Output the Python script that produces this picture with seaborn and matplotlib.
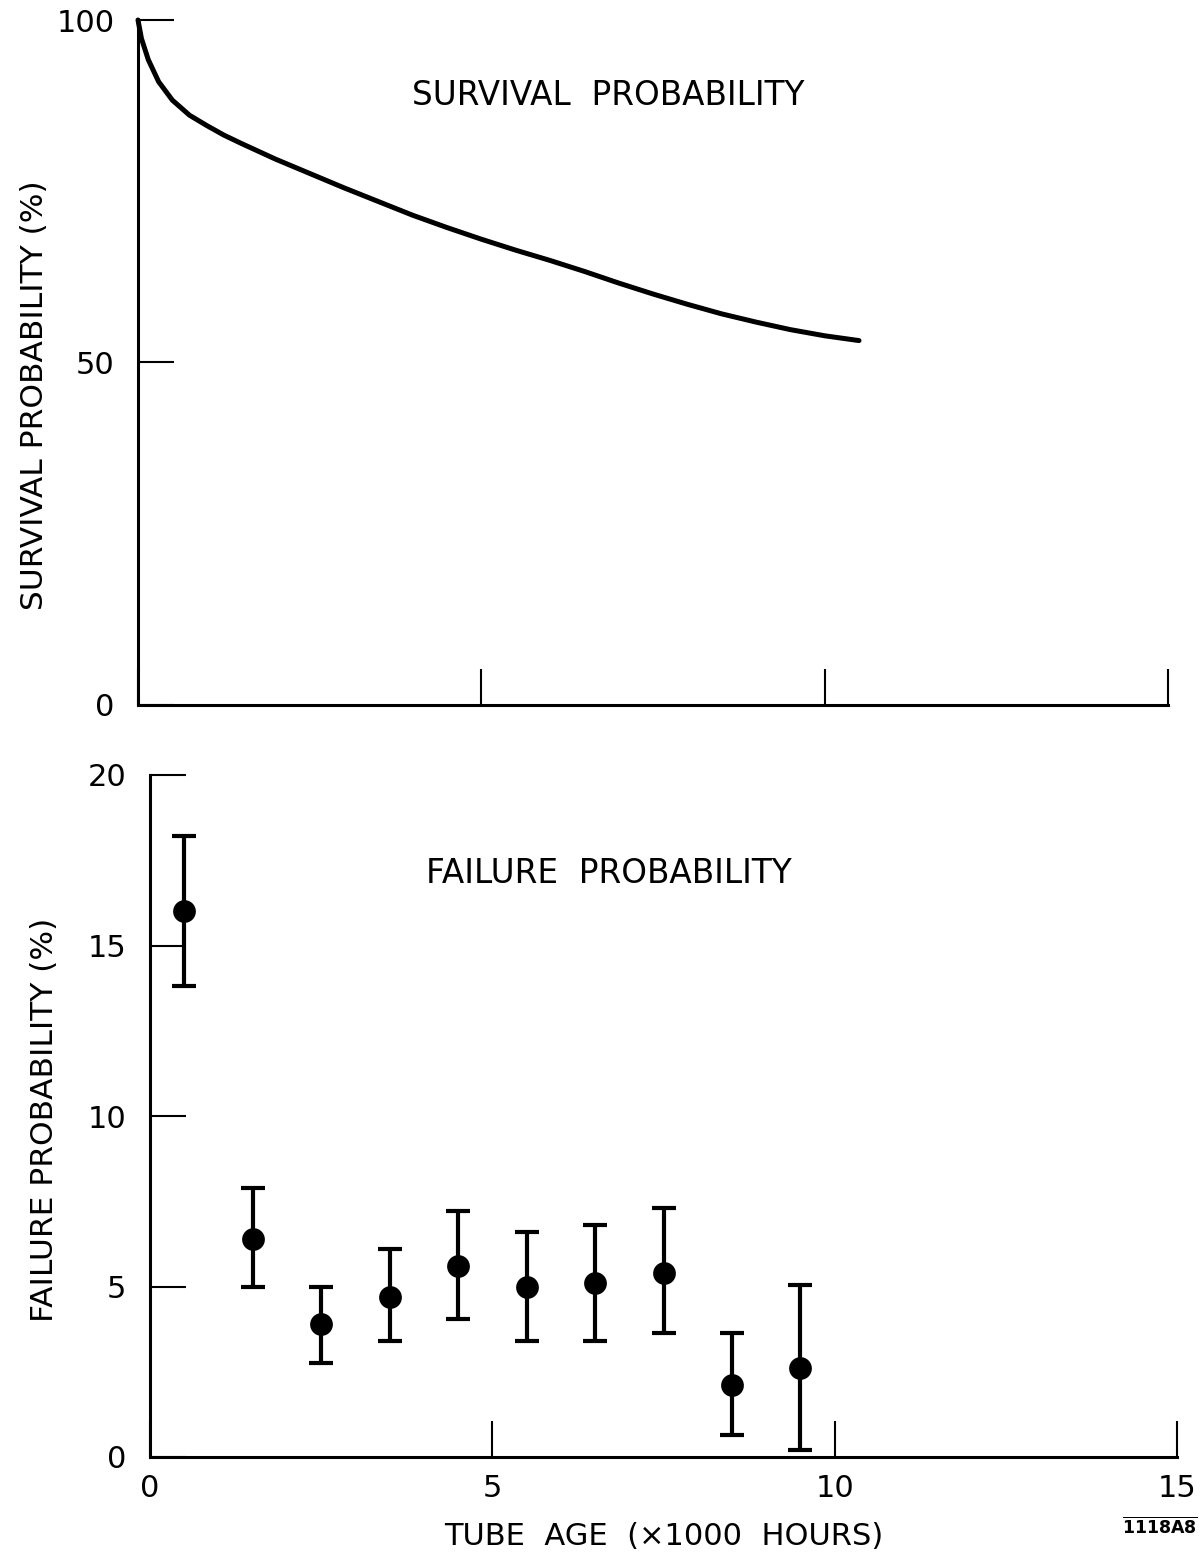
import matplotlib
matplotlib.use("Agg")
import matplotlib.pyplot as plt
import seaborn as sns
import pandas as pd
import numpy as np

# ---- data ----
surv_age = [0.0, 0.05, 0.15, 0.3, 0.5, 0.75, 1.0, 1.25, 1.5, 2.0, 2.5, 3.0, 3.5, 4.0,
            4.5, 5.0, 5.5, 6.0, 6.5, 7.0, 7.5, 8.0, 8.5, 9.0, 9.5, 10.0, 10.5]
surv_pct = [100.0, 97.3, 94.2, 91.0, 88.3, 86.1, 84.6, 83.2, 82.0, 79.7, 77.6, 75.5, 73.5,
            71.5, 69.7, 68.0, 66.4, 64.9, 63.3, 61.6, 60.0, 58.5, 57.1, 55.9, 54.8, 53.9, 53.2]

fail_age = [0.5, 1.5, 2.5, 3.5, 4.5, 5.5, 6.5, 7.5, 8.5, 9.5]
fail_pct = [16.0, 6.4, 3.9, 4.7, 5.6, 5.0, 5.1, 5.4, 2.1, 2.6]
fail_hi = [18.2, 7.9, 5.0, 6.1, 7.2, 6.6, 6.8, 7.3, 3.65, 5.05]
fail_lo = [13.8, 5.0, 2.75, 3.4, 4.05, 3.4, 3.4, 3.65, 0.65, 0.2]

top_yticks = [0, 50, 100]
bot_yticks = [0, 5, 10, 15, 20]
xticks = [0, 5, 10, 15]

sns.set_style("ticks")
plt.rcParams['font.family'] = ['DejaVu Sans']
plt.rcParams['text.color'] = 'black'
plt.rcParams['axes.labelcolor'] = 'black'

W, H = 1201, 1552
fig = plt.figure(figsize=(W / 100, H / 100), dpi=100)

ax1 = fig.add_axes([138 / W, 1 - 705 / H, 1030 / W, 685 / H])
ax2 = fig.add_axes([150 / W, 1 - 1457 / H, 1027 / W, 682 / H])

FS = 22
for ax in (ax1, ax2):
    ax.set_facecolor("white")
    for s in ("top", "right"):
        ax.spines[s].set_visible(False)
    for s in ("left", "bottom"):
        ax.spines[s].set_linewidth(2.2)
        ax.spines[s].set_color("black")
    ax.set_xlim(0, 15)
    ax.tick_params(axis="both", direction="in", length=26, width=1.5,
                   color="black", labelsize=FS, labelcolor="black")
    ax.tick_params(axis="y", pad=17)
    ax.tick_params(axis="x", pad=12)

# ---- top panel ----
df_s = pd.DataFrame({"age": surv_age, "pct": surv_pct})
sns.lineplot(data=df_s, x="age", y="pct", ax=ax1, color="black", linewidth=3.6,
             clip_on=False, solid_capstyle="round", solid_joinstyle="round")
ax1.set_ylim(0, 100)
ax1.set_yticks(top_yticks)
ax1.set_xticks(xticks)
ax1.set_xticklabels([])
ax1.set_xlabel("")
ax1.set_ylabel("SURVIVAL PROBABILITY (%)", fontsize=22.5)
ax1.yaxis.set_label_coords(-0.086, 0.453)
ax1.text(6.85, 89, "SURVIVAL  PROBABILITY", fontsize=23.5, ha="center", va="center")

# ---- bottom panel ----
df_f = pd.DataFrame({"age": fail_age, "pct": fail_pct, "hi": fail_hi, "lo": fail_lo})
yerr = [df_f["pct"] - df_f["lo"], df_f["hi"] - df_f["pct"]]
ax2.errorbar(df_f["age"], df_f["pct"], yerr=yerr, fmt="none", ecolor="black",
             elinewidth=3.0, capsize=8.5, capthick=3.0)
sns.scatterplot(data=df_f, x="age", y="pct", ax=ax2, color="black", s=230,
                edgecolor="black", zorder=5)
ax2.set_ylim(0, 20)
ax2.set_yticks(bot_yticks)
ax2.set_xticks(xticks)
ax2.set_xlabel("TUBE  AGE  (×1000  HOURS)", fontsize=FS, labelpad=14)
ax2.set_ylabel("FAILURE PROBABILITY (%)", fontsize=22.5)
ax2.yaxis.set_label_coords(-0.089, 0.495)
ax2.text(6.7, 17.1, "FAILURE  PROBABILITY", fontsize=23.5, ha="center", va="center")

fig.text(1160 / W, 1 - 1527 / H, r"$\overline{\mathbf{1118A8}}$", fontsize=12.5,
         ha="center", va="center")

fig.savefig("out.png", dpi=100, facecolor="white")
